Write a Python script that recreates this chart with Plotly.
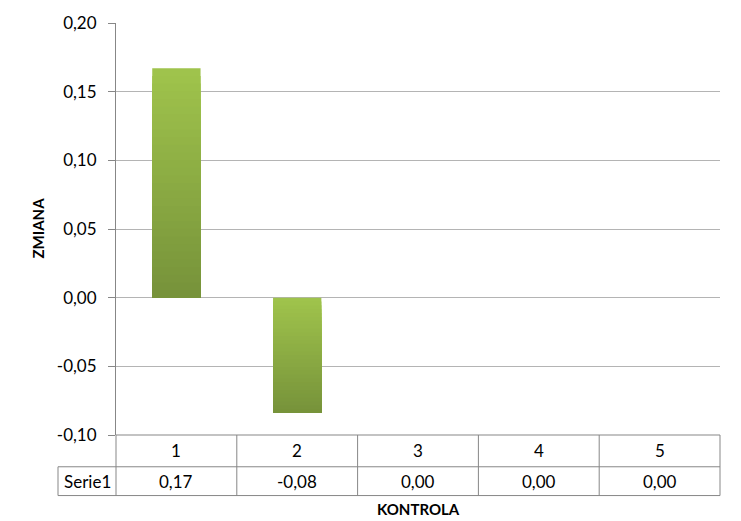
import plotly.graph_objects as go

# Data
categories = ["1", "2", "3", "4", "5"]
series_name = "Serie1"
values = [0.167, -0.084, 0.0, 0.0, 0.0]
y_ticks = [-0.10, -0.05, 0.00, 0.05, 0.10, 0.15, 0.20]

W, H = 741, 521
L, R, T, B = 116, 21, 20, 86
PW, PH = W - L - R, H - T - B

FONT = "Lato, Carlito, Liberation Sans, sans-serif"
GRID = "#b4b4b4"
AXIS = "#878787"
TXT = 17


def px_x(x):
    return (x - L) / PW


def px_y(y):
    return (H - B - y) / PH


def fmt(v):
    return f"{v:.2f}".replace(".", ",")


fig = go.Figure()

# Bars drawn as overlapping layers so the fill fades from light green at the
# top to darker green at the bottom
n_slices = 30
top_rgb = (160, 196, 76)
bot_rgb = (118, 146, 58)
for i in range(n_slices):
    t0 = i / n_slices
    tm = (i + 0.5) / n_slices
    c = tuple(round(top_rgb[k] + (bot_rgb[k] - top_rgb[k]) * tm) for k in range(3))
    xs, ys, bases = [], [], []
    for idx, v in enumerate(values):
        if v == 0:
            continue
        xs.append(categories[idx])
        if v > 0:
            bases.append(0)
        else:
            bases.append(v * t0)
        ys.append(v * (1 - t0))
    fig.add_trace(go.Bar(
        x=xs, y=ys, base=bases,
        width=0.4, marker=dict(color=f"rgb{c}", line=dict(width=0)),
        showlegend=False, hoverinfo="skip",
    ))

fig.update_layout(
    width=W, height=H,
    margin=dict(l=L, r=R, t=T, b=B),
    paper_bgcolor="white", plot_bgcolor="white",
    barmode="overlay",
    font=dict(family=FONT, size=TXT, color="black"),
    xaxis=dict(
        type="category", categoryorder="array", categoryarray=categories,
        showticklabels=False, showgrid=False, zeroline=False,
        showline=False, range=[-0.5, len(categories) - 0.5],
    ),
    yaxis=dict(
        range=[y_ticks[0], y_ticks[-1]], tickvals=y_ticks,
        ticktext=[fmt(v) for v in y_ticks],
        showgrid=True, gridcolor=GRID, gridwidth=1,
        zeroline=True, zerolinecolor=GRID, zerolinewidth=1,
        showline=True, linecolor=AXIS, linewidth=1,
        ticks="outside", ticklen=7, tickcolor=AXIS,
        ticklabelstandoff=8,
        tickfont=dict(size=TXT),
    ),
)

# Data table under the plot
row_top = H - B
row_mid = 467
row_bot = 496
left_col = 58
shapes = []
line = dict(color=AXIS, width=1)
for y, x0 in [(row_top, L), (row_mid, left_col), (row_bot, left_col)]:
    shapes.append(dict(type="line", xref="paper", yref="paper",
                       x0=px_x(x0), x1=1, y0=px_y(y), y1=px_y(y), line=line))
n = len(categories)
for k in range(n + 1):
    xp = k / n
    shapes.append(dict(type="line", xref="paper", yref="paper",
                       x0=xp, x1=xp, y0=px_y(row_top), y1=px_y(row_bot), line=line))
shapes.append(dict(type="line", xref="paper", yref="paper",
                   x0=px_x(left_col), x1=px_x(left_col),
                   y0=px_y(row_mid), y1=px_y(row_bot), line=line))
fig.update_layout(shapes=shapes)


def label(x, y, text, **kw):
    d = dict(x=x, y=y, xref="paper", yref="paper", text=text, showarrow=False,
             xanchor="center", yanchor="middle", font=dict(size=TXT))
    d.update(kw)
    return d


annotations = []
for k, (cat, v) in enumerate(zip(categories, values)):
    xc = (k + 0.5) / n
    annotations.append(label(xc, px_y((row_top + row_mid) / 2), cat))
    annotations.append(label(xc, px_y((row_mid + row_bot) / 2), fmt(v)))
annotations.append(label(px_x((left_col + L) / 2), px_y((row_mid + row_bot) / 2), series_name))
# axis titles
annotations.append(label(0.5, px_y(510), "<b>KONTROLA</b>", font=dict(size=15)))
annotations.append(label(px_x(38), px_y(227), "<b>ZMIANA</b>", textangle=-90,
                         font=dict(size=15)))
fig.update_layout(annotations=annotations)

fig.write_html("out.html")
